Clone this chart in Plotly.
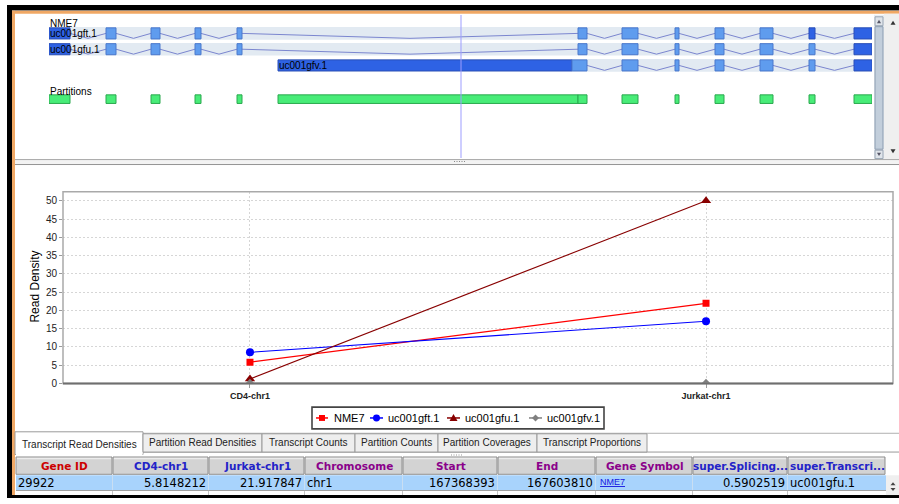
import plotly.graph_objects as go

W, H = 899, 504

# ---------------- expression values (read density per sample) ----------------
samples = ["CD4-chr1", "Jurkat-chr1"]
nme7 = [5.8148212, 21.917847]
uc001gft_1 = [8.5, 17.0]
uc001gfu_1 = [1.2, 50.0]
uc001gfv_1 = [0.0, 0.0]
series_names = ["NME7", "uc001gft.1", "uc001gfu.1", "uc001gfv.1"]

# ---------------- gene model, chr1 genomic coordinates ----------------
gene_name = "NME7"
gene_start = 167368393
gene_end = 167603810
exons_common = [
    (167368393, 167374400), (167384700, 167387560), (167397570, 167400145),
    (167410155, 167411875), (167422170, 167423600), (167519715, 167522290),
    (167532300, 167536875), (167547460, 167548605), (167558900, 167561475),
    (167571775, 167575495), (167585790, 167587510), (167598665, 167603810),
]
transcript_exons = {
    "uc001gft.1": exons_common,
    "uc001gfu.1": exons_common,
    "uc001gfv.1": [(167433900, 167518000), (167518000, 167522290)] + exons_common[6:],
}
partitions = [
    (167368393, 167374400), (167384700, 167387560), (167397570, 167400145),
    (167410155, 167411875), (167422170, 167423600), (167433900, 167519715),
    (167519715, 167522290), (167532300, 167536875), (167547460, 167548605),
    (167558900, 167561475), (167571775, 167575495), (167585790, 167587510),
    (167598665, 167603810),
]
cursor_pos = 167486246

# ---------------- table contents ----------------
tab_names = ["Transcript Read Densities", "Partition Read Densities", "Transcript Counts",
             "Partition Counts", "Partition Coverages", "Transcript Proportions"]
col_names = ["Gene ID", "CD4-chr1", "Jurkat-chr1", "Chromosome", "Start", "End",
             "Gene Symbol", "super.Splicing...", "super.Transcri..."]
row_values = ["29922", "5.8148212", "21.917847", "chr1", "167368393", "167603810",
              "NME7", "0.5902519", "uc001gfu.1"]

# ---------------- styling / layout constants ----------------
SERIES_STYLE = {
    "NME7": dict(color="#ff0000", symbol="square", size=7),
    "uc001gft.1": dict(color="#0000ff", symbol="circle", size=8),
    "uc001gfu.1": dict(color="#880000", symbol="triangle-up", size=9),
    "uc001gfv.1": dict(color="#808080", symbol="diamond", size=7),
}
DARK_EXONS = {"uc001gft.1": {0, 10, 11}, "uc001gfu.1": {0, 11}, "uc001gfv.1": {0, 7}}
ROW_CENTER = {"uc001gft.1": 33.8, "uc001gfu.1": 49.8, "uc001gfv.1": 66.2}
EXON_HALF, BAND_HALF, CHEVRON_DROP = 5.6, 6.4, 5.0
PART_TOP, PART_BOT = 96.0, 104.7
COL_EDGES = [16, 113, 209, 305, 403, 498, 596, 693, 788, 886]
COL_ALIGN = ["left", "right", "right", "left", "right", "right", "left", "right", "left"]
COL_COLORS = ["#cc0000", "#2323c8", "#2323c8", "#8a008a", "#8a008a", "#8a008a",
              "#8a008a", "#2323c8", "#2323c8"]
TAB_EDGES = [15, 143, 262, 355, 438, 537, 647]

SANS = "Liberation Sans, Arial, sans-serif"
VERD = "DejaVu Sans, Verdana, sans-serif"


def fx(x):
    return x / W


def fy(y):
    return 1 - y / H


shapes = []
annotations = []


def rect(x0, y0, x1, y1, fill, line=None, lw=0, layer="above"):
    shapes.append(dict(type="rect", xref="paper", yref="paper",
                       x0=fx(x0), x1=fx(x1), y0=fy(y1), y1=fy(y0),
                       fillcolor=fill, line=dict(color=line or fill, width=lw), layer=layer))


def seg(x0, y0, x1, y1, color, lw=1, dash=None):
    shapes.append(dict(type="line", xref="paper", yref="paper",
                       x0=fx(x0), x1=fx(x1), y0=fy(y0), y1=fy(y1),
                       line=dict(color=color, width=lw, dash=dash)))


def poly(points, fill, line=None, lw=0):
    d = "M " + " L ".join(f"{fx(x):.5f},{fy(y):.5f}" for x, y in points) + " Z"
    shapes.append(dict(type="path", xref="paper", yref="paper", path=d,
                       fillcolor=fill, line=dict(color=line or fill, width=lw)))


def text(x, y, s, size, color="#000", family=SANS, anchor="left", weight="normal", angle=0):
    annotations.append(dict(x=fx(x), y=fy(y), xref="paper", yref="paper", text=s,
                            showarrow=False, xanchor=anchor, yanchor="middle", textangle=angle,
                            font=dict(size=size, color=color, family=family, weight=weight),
                            borderpad=0))


fig = go.Figure()

# ---------------- line chart of read densities ----------------
for name, vals in zip(series_names, [nme7, uc001gft_1, uc001gfu_1, uc001gfv_1]):
    st = SERIES_STYLE[name]
    fig.add_trace(go.Scatter(
        x=samples, y=vals, name=name, mode="lines+markers", xaxis="x", yaxis="y",
        line=dict(color=st["color"], width=1.1),
        marker=dict(symbol=st["symbol"], size=st["size"], color=st["color"]),
        hoverinfo="skip", showlegend=False))

# ---------------- gene structure track ----------------
track_shapes = []
for tname, exons in transcript_exons.items():
    c = ROW_CENTER[tname]
    band_start = exons[0][0]
    track_shapes.append(dict(type="rect", xref="x2", yref="y2", x0=band_start, x1=gene_end,
                             y0=c - BAND_HALF, y1=c + BAND_HALF, fillcolor="#e2eaf2",
                             line=dict(width=0), layer="below"))
    xs, ys = [], []
    for (s0, e0), (s1, e1) in zip(exons[:-1], exons[1:]):
        if s1 > e0:
            xs += [e0, (e0 + s1) / 2, s1, None]
            ys += [c, c + CHEVRON_DROP, c, None]
    fig.add_trace(go.Scatter(x=xs, y=ys, xaxis="x2", yaxis="y2", mode="lines",
                             line=dict(color="#7b86cf", width=1), hoverinfo="skip",
                             showlegend=False))
    for i, (s, e) in enumerate(exons):
        dark = i in DARK_EXONS[tname]
        track_shapes.append(dict(type="rect", xref="x2", yref="y2", x0=s, x1=e,
                                 y0=c - EXON_HALF, y1=c + EXON_HALF,
                                 fillcolor="#2e62e4" if dark else "#5f9cee",
                                 line=dict(color="#2a4fb8" if dark else "#4a78cc", width=1)))
    annotations.append(dict(x=band_start, y=c, xref="x2", yref="y2", text=tname,
                            showarrow=False, xanchor="left", yanchor="middle",
                            font=dict(size=10, color="#000", family=SANS), borderpad=0))

for s, e in partitions:
    track_shapes.append(dict(type="rect", xref="x2", yref="y2", x0=s, x1=e,
                             y0=PART_TOP, y1=PART_BOT, fillcolor="#48ec78",
                             line=dict(color="#2aa84e", width=1)))

track_shapes.append(dict(type="line", xref="x2", yref="y2", x0=cursor_pos, x1=cursor_pos,
                         y0=15, y1=160, line=dict(color="#9d9dff", width=1)))
annotations.append(dict(x=gene_start, y=23.5, xref="x2", yref="y2", text=gene_name,
                        showarrow=False, xanchor="left", yanchor="middle",
                        font=dict(size=10, color="#000", family=SANS), borderpad=0))
annotations.append(dict(x=gene_start, y=92.5, xref="x2", yref="y2", text="Partitions",
                        showarrow=False, xanchor="left", yanchor="middle",
                        font=dict(size=10, color="#000", family=SANS), borderpad=0))

# ---------------- window chrome ----------------
rect(7, 5, 899, 10.5, "#000000")
rect(7, 5, 12, 504, "#000000")
rect(7, 501, 899, 504, "#000000")
rect(12, 11, 899, 14, "#f0a865")
rect(12, 11, 15, 501, "#f0a865")

# top panel scrollbar
rect(884, 14, 899, 161, "#efefef")
poly([(890.5, 25), (895.5, 25), (893, 21)], "#333")
poly([(890.5, 151), (895.5, 151), (893, 155)], "#333")
rect(874, 15, 884, 161, "#e9edf1")
rect(875, 17, 883, 26, "#dfe4ea", "#9aa6b4", 1)
poly([(877, 23.5), (881, 23.5), (879, 20)], "#556")
rect(875, 27, 883, 151, "#c2cedb", "#8c9db1", 1)
rect(875, 152, 883, 160.5, "#dfe4ea", "#9aa6b4", 1)
poly([(877, 154.5), (881, 154.5), (879, 158)], "#556")

# split-pane dividers
rect(15, 161, 899, 167, "#f3f3f3")
seg(15, 161.5, 899, 161.5, "#a8a8a8")
seg(15, 166.5, 899, 166.5, "#959595")
for i in range(5):
    rect(454 + 2.5 * i, 163, 455 + 2.5 * i, 164, "#888")
seg(15, 438.5, 899, 438.5, "#b0b0b0")

# chart plot frame
PL, PR, PT, PB = 63, 893, 194, 388
rect(PL, PT, PR, PB, "rgba(0,0,0,0)", "#a9a9a9", 1.5)
seg(PL, PB, PR, PB, "#6e6e6e", 2)

# y-axis title
text(35, 290, "Read Density", 12, "#000", SANS, "center", angle=-90)

# legend
rect(312, 412, 604, 434, "#ffffff", "#444444", 1.6)
LY = 423
leg_items = [(316, 328, 322, 333), (370, 383, 376.5, 387), (447, 460, 453.5, 464), (529, 542, 535.5, 546)]
for name, (l0, l1, mx, tx) in zip(series_names, leg_items):
    col = SERIES_STYLE[name]["color"]
    seg(l0, LY, l1, LY, col, 1.5)
    sym = SERIES_STYLE[name]["symbol"]
    if sym == "square":
        rect(mx - 3, LY - 3, mx + 3, LY + 3, col)
    elif sym == "circle":
        shapes.append(dict(type="circle", xref="paper", yref="paper", x0=fx(mx - 3.5), x1=fx(mx + 3.5),
                           y0=fy(LY + 3.5), y1=fy(LY - 3.5), fillcolor=col, line=dict(width=0)))
    elif sym == "triangle-up":
        poly([(mx - 4, LY + 3), (mx + 4, LY + 3), (mx, LY - 4)], col)
    else:
        poly([(mx, LY - 3.5), (mx + 3.5, LY), (mx, LY + 3.5), (mx - 3.5, LY)], col)
    text(tx, LY, name, 11, "#000", SANS)

# tabs
seg(143, 457.5, 899, 457.5, "#9a9a9a")
for i, name in enumerate(tab_names):
    x0, x1 = TAB_EDGES[i], TAB_EDGES[i + 1]
    if i == 0:
        rect(x0, 437, x1, 460, "#ffffff", "#9a9a9a", 1)
        rect(x0 + 1, 456, x1 - 0.5, 461, "#ffffff")
        text((x0 + x1) / 2, 449.5, name, 10, "#222", SANS, "center")
    else:
        rect(x0, 439, x1, 457.5, "#eeeeee", "#9a9a9a", 1)
        text((x0 + x1) / 2, 448, name, 10, "#222", SANS, "center")
for i in range(5):
    rect(451 + 2.5 * i, 460, 452 + 2.5 * i, 461, "#999")

# table header + first row
for i, name in enumerate(col_names):
    x0, x1 = COL_EDGES[i], COL_EDGES[i + 1]
    rect(x0, 462.5, x1 - 1, 480, "#d3d3d3", "#8f8f8f", 1)
    seg(x0 + 1, 464, x1 - 2, 464, "#ececec", 1.5)
    text((x0 + x1) / 2, 471.5, name, 10.5, COL_COLORS[i], VERD, "center", "bold")
rect(16, 481, 886, 496, "#a8d3fc")
seg(16, 496.5, 886, 496.5, "#9a9a9a")
rect(16, 497, 886, 501, "#ffffff")
for x in COL_EDGES[1:-1]:
    seg(x - 0.5, 481, x - 0.5, 496, "#c9def2")
    seg(x - 0.5, 497, x - 0.5, 501, "#c4c4c4")
for i, val in enumerate(row_values):
    x0, x1 = COL_EDGES[i], COL_EDGES[i + 1]
    if col_names[i] == "Gene Symbol":
        text(x0 + 3, 488, "<u>" + val + "</u>", 9, "#1515e0", SANS)
    elif COL_ALIGN[i] == "left":
        text(x0 + 1, 488.5, val, 11.5, "#000", VERD)
    else:
        text(x1 - 2, 488.5, val, 11.5, "#000", VERD, "right")
rect(886, 481, 899, 501, "#efefef")
poly([(890.5, 491), (895.5, 491), (893, 488)], "#444")
poly([(890.5, 494), (895.5, 494), (893, 497)], "#444")

fig.update_layout(
    width=W, height=H, margin=dict(l=0, r=0, t=0, b=0),
    paper_bgcolor="#ffffff", plot_bgcolor="#ffffff",
    showlegend=False, hovermode=False,
    font=dict(family=SANS, size=10, color="#222"),
    xaxis=dict(domain=[fx(PL), fx(PR)], type="category", range=[-0.41, 1.41],
               showgrid=True, gridcolor="#d6d6d6", griddash="2px,2px", gridwidth=1,
               zeroline=False, showline=False, ticks="outside", ticklen=4, tickcolor="#9a9a9a",
               tickfont=dict(size=9, family=SANS, color="#222", weight="bold"), anchor="y",
               fixedrange=True),
    yaxis=dict(domain=[fy(PB), fy(PT)], range=[0, 52.5], tick0=0, dtick=5,
               showgrid=True, gridcolor="#d6d6d6", griddash="2px,2px", gridwidth=1,
               zeroline=False, showline=False, ticks="outside", ticklen=3, tickcolor="#9a9a9a",
               tickfont=dict(size=10, family=SANS, color="#222"), anchor="x",
               fixedrange=True),
    xaxis2=dict(domain=[fx(49), fx(872)], range=[gene_start, gene_end], visible=False,
                anchor="y2", fixedrange=True),
    yaxis2=dict(domain=[fy(160), fy(15)], range=[160, 15], visible=False, anchor="x2",
                fixedrange=True),
    shapes=track_shapes + shapes,
    annotations=annotations,
)

fig.write_html("out.html")
